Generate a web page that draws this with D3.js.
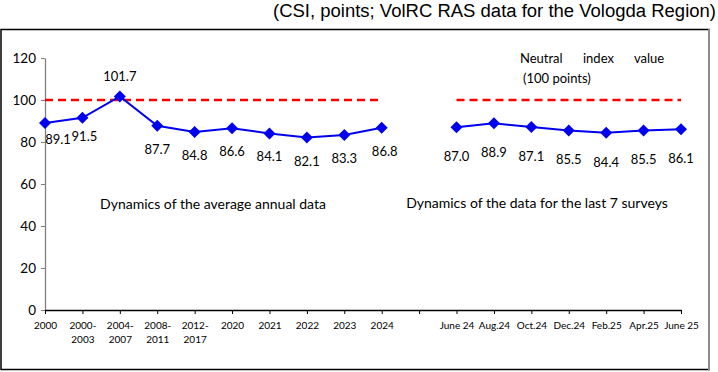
<!DOCTYPE html>
<html>
<head>
<meta charset="utf-8">
<script src="https://cdn.jsdelivr.net/npm/d3@7"></script>
<style>
  body { margin: 0; background: #fff; }
  svg { display: block; font-family: Lato, "Open Sans", sans-serif; }
</style>
</head>
<body>
<div class="main"></div>
<script>
// chart data
const categories = ['2000', '2000-\n2003', '2004-\n2007', '2008-\n2011', '2012-\n2017',
  '2020', '2021', '2022', '2023', '2024', '',
  'June 24', 'Aug.24', 'Oct.24', 'Dec.24', 'Feb.25', 'Apr.25', 'June 25'];
const csiValues = [89.1, 91.5, 101.7, 87.7, 84.8, 86.6, 84.1, 82.1, 83.3, 86.8, null,
  87.0, 88.9, 87.1, 85.5, 84.4, 85.5, 86.1];
const neutralValues = [100, 100, 100, 100, 100, 100, 100, 100, 100, 100, null,
  100, 100, 100, 100, 100, 100, 100];
const yTicks = [0, 20, 40, 60, 80, 100, 120];

const width = 718;
const height = 372;

const svg = d3.select('.main').append('svg')
  .attr('width', width)
  .attr('height', height);

// frame
svg.append('rect')
  .attr('x', 1).attr('y', 29.5)
  .attr('width', 708).attr('height', 340)
  .attr('fill', 'none')
  .attr('stroke', '#000')
  .attr('stroke-width', 1.5);
svg.append('line')
  .attr('x1', 709).attr('x2', 709)
  .attr('y1', 29).attr('y2', 370.5)
  .attr('stroke', '#8a8a8a')
  .attr('stroke-width', 2);

// title
svg.append('text')
  .attr('x', 716).attr('y', 17)
  .attr('text-anchor', 'end')
  .attr('font-family', '"Liberation Sans", Arial, sans-serif')
  .attr('font-size', 18)
  .attr('textLength', 443)
  .attr('lengthAdjust', 'spacingAndGlyphs')
  .text('(CSI, points; VolRC RAS data for the Vologda Region)');

const idx = categories.map((c, i) => i);
const xScale = d3.scalePoint().domain(idx).range([45, 681]);
const yScale = d3.scaleLinear().domain([0, 120]).range([310, 58]);

// y axis
const yAxis = svg.append('g')
  .attr('transform', 'translate(45,0)')
  .call(d3.axisLeft(yScale).tickValues(yTicks).tickSize(4).tickSizeOuter(0).tickPadding(5));
yAxis.select('.domain').attr('stroke', '#808080').attr('stroke-width', 1.3);
yAxis.selectAll('.tick line').attr('stroke', '#808080');
yAxis.selectAll('.tick text')
  .attr('font-size', 13.5)
  .attr('font-family', 'Lato, sans-serif')
  .attr('fill', '#000');

// x axis
const xAxis = svg.append('g')
  .attr('transform', 'translate(0,310)')
  .call(d3.axisBottom(xScale).tickSize(4).tickSizeOuter(0).tickFormat(''));
xAxis.select('.domain').attr('stroke', '#000').attr('stroke-width', 1.3);
xAxis.selectAll('.tick line').attr('stroke', '#000');
xAxis.selectAll('.tick text').each(function (d) {
  const t = d3.select(this).attr('y', null).attr('dy', null)
    .attr('font-size', 10)
    .attr('font-family', 'Lato, sans-serif')
    .attr('fill', '#000');
  categories[d].split('\n').forEach((line, k) => {
    t.append('tspan').attr('x', 0).attr('y', 19 + k * 14).text(line);
  });
});

// neutral line
const line = d3.line()
  .defined(d => d != null)
  .x((d, i) => xScale(i))
  .y(d => yScale(d));

svg.append('path')
  .datum(neutralValues)
  .attr('d', line)
  .attr('fill', 'none')
  .attr('stroke', '#ff0000')
  .attr('stroke-width', 2.5)
  .attr('stroke-dasharray', '8,5');

// CSI series
svg.append('path')
  .datum(csiValues)
  .attr('d', line)
  .attr('fill', 'none')
  .attr('stroke', '#0000ee')
  .attr('stroke-width', 2);

const diamond = d3.symbol(d3.symbolSquare, 72);
svg.selectAll('.marker')
  .data(csiValues.map((v, i) => ({ v, i })).filter(d => d.v != null))
  .enter()
  .append('path')
  .attr('class', 'marker')
  .attr('d', diamond)
  .attr('transform', d => `translate(${xScale(d.i)},${yScale(d.v)}) rotate(45)`)
  .attr('fill', '#0000ee');

// value labels
svg.selectAll('.value')
  .data(csiValues.map((v, i) => ({ v, i })).filter(d => d.v != null))
  .enter()
  .append('text')
  .attr('class', 'value')
  .attr('text-anchor', 'middle')
  .attr('font-size', 13)
  .attr('x', d => {
    if (d.i === 0) return xScale(d.i) + 13;
    if (d.i === 1) return xScale(d.i) + 2;
    if (d.i === 9) return xScale(d.i) + 3;
    return xScale(d.i);
  })
  .attr('y', d => {
    const p = yScale(d.v);
    if (d.i === 2) return p - 15;
    if (d.i === 0) return p + 21;
    if (d.i === 1) return p + 23;
    if (d.i > 10) return p + 34;
    return p + 28;
  })
  .text(d => d.v.toFixed(1));

// annotations
svg.append('text')
  .attr('x', 213).attr('y', 209)
  .attr('text-anchor', 'middle')
  .attr('font-size', 14)
  .text('Dynamics of the average annual data');
svg.append('text')
  .attr('x', 537).attr('y', 208)
  .attr('text-anchor', 'middle')
  .attr('font-size', 14)
  .text('Dynamics of the data for the last 7 surveys');

[['Neutral', 520], ['index', 583], ['value', 634]].forEach(([w, x]) => {
  svg.append('text').attr('x', x).attr('y', 63).attr('font-size', 13).text(w);
});
svg.append('text').attr('x', 523).attr('y', 83).attr('font-size', 13).text('(100 points)');
</script>
</body>
</html>
